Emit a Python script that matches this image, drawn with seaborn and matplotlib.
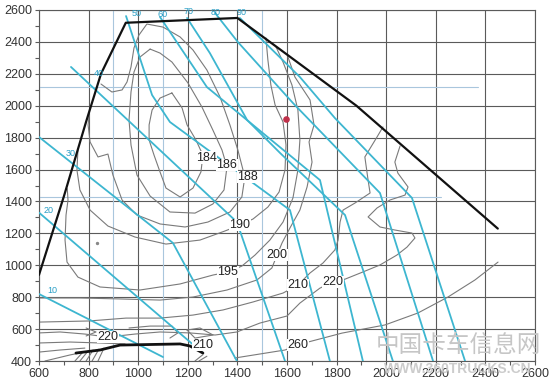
import matplotlib
matplotlib.use("Agg")
import matplotlib.pyplot as plt
import seaborn as sns

# axes
rpm_ticks = list(range(600, 2601, 200))
torque_ticks = list(range(400, 2601, 200))

# full load torque curve and minimum load curve (rpm, Nm)
full_load = [(600, 940), (700, 1430), (790, 1900), (850, 2200), (950, 2520),
             (1400, 2550), (1880, 2000), (2450, 1230)]
min_load = [(749, 450), (846, 469), (927, 500), (1169, 507), (1209, 494), (1261, 450)]

# pedal position lines (%)
pedal_10 = [(600, 820), (1100, 425)]
pedal_20 = [(600, 1330), (1261, 450)]
pedal_30 = [(600, 1804), (1140, 1140), (1398, 400)]
pedal_40 = [(729, 2243), (1398, 1271), (1592, 400)]
pedal_50 = [(951, 2562), (1056, 2067), (1128, 1898), (1612, 1346), (1773, 400)]
pedal_60 = [(1088, 2556), (1277, 2117), (1733, 1534), (1906, 400)]
pedal_70 = [(1197, 2550), (1289, 2330), (1439, 1911), (1572, 1704), (1834, 1315), (2027, 400)]
pedal_80 = [(1310, 2581), (1402, 2399), (1624, 2017), (1975, 1453), (2189, 400)]
pedal_90 = [(1410, 2550), (1652, 2180), (1793, 1923), (2104, 1422), (2318, 400)]
pedal_labels = [("10", 652, 840), ("20", 640, 1345), ("30", 729, 1700), ("40", 842, 2205),
                ("50", 995, 2575), ("60", 1100, 2570), ("70", 1201, 2590),
                ("80", 1314, 2585), ("90", 1418, 2585)]

# BSFC contours (g/kWh)
c184 = [(1136, 2080), (1088, 2048), (1056, 1973), (1044, 1880), (1044, 1785), (1064, 1690),
        (1088, 1585), (1112, 1484), (1169, 1428), (1221, 1484), (1253, 1585), (1261, 1690),
        (1233, 1785), (1197, 1880), (1177, 1986), (1136, 2080)]
c186 = [(1048, 2355), (1007, 2305), (983, 2211), (971, 2086), (963, 1911), (971, 1754),
        (995, 1566), (1048, 1434), (1128, 1334), (1229, 1327), (1301, 1384), (1346, 1472),
        (1358, 1616), (1338, 1722), (1301, 1848), (1257, 1992), (1201, 2142), (1136, 2274),
        (1088, 2330), (1048, 2355)]
c188 = [(850, 2136), (894, 2086), (935, 2099), (955, 2149), (971, 2243), (983, 2362),
        (1003, 2443), (1035, 2512), (1100, 2493), (1169, 2431), (1221, 2349), (1277, 2224),
        (1330, 2055), (1370, 1879), (1402, 1722), (1430, 1553), (1418, 1428), (1370, 1334),
        (1281, 1271), (1189, 1240), (1088, 1259), (995, 1315), (935, 1409), (898, 1566),
        (878, 1697), (838, 1679), (806, 1773), (798, 1879), (802, 1942)]
c190 = [(757, 1722), (753, 1597), (765, 1472), (806, 1346), (878, 1246), (987, 1177),
        (1112, 1133), (1249, 1158), (1350, 1215), (1410, 1252), (1463, 1290), (1523, 1365),
        (1568, 1459), (1592, 1597), (1596, 1754), (1584, 1898), (1552, 2005), (1535, 2130),
        (1523, 2287), (1515, 2425)]
c195 = [(1556, 2368), (1584, 2274), (1620, 2130), (1644, 1973), (1652, 1785), (1644, 1597),
        (1624, 1422), (1584, 1271), (1531, 1158), (1471, 1064), (1418, 995), (1362, 958),
        (1302, 939), (1169, 883), (1007, 845), (846, 864), (757, 926), (713, 1020),
        (705, 1158), (709, 1315), (717, 1409), (714, 1480)]
c200 = [(1604, 2305), (1632, 2180), (1693, 2036), (1709, 1879), (1689, 1773), (1701, 1647),
        (1681, 1491), (1652, 1346), (1612, 1234), (1580, 1140), (1560, 1064), (1539, 983),
        (1479, 908), (1358, 845), (1221, 801), (1088, 782), (927, 789), (765, 795), (600, 795)]
c210 = [(1987, 1867), (1963, 1804), (1914, 1679), (1927, 1534), (1935, 1453), (1874, 1390),
        (1826, 1346), (1814, 1271), (1806, 1158), (1793, 1096), (1745, 1014), (1693, 952),
        (1644, 876), (1584, 826), (1463, 770), (1342, 720), (1221, 688), (1088, 669),
        (951, 669), (802, 651), (600, 644)]
c220 = [(2056, 1748), (2035, 1647), (2047, 1578), (2088, 1491), (2076, 1440), (2015, 1409),
        (1963, 1359), (1927, 1303), (1975, 1240), (2035, 1221), (2104, 1202), (2116, 1171),
        (2084, 1114), (2043, 1064), (1975, 1002), (1906, 958), (1826, 908), (1785, 895),
        (1733, 857), (1652, 763), (1600, 682), (1491, 638), (1398, 582), (1310, 563),
        (1209, 576), (1088, 582), (987, 569), (878, 550), (785, 569), (685, 582), (600, 576)]
c260 = [(1390, 419), (1491, 444), (1592, 469), (1644, 500), (1685, 519), (1822, 575),
        (1995, 626), (2128, 701), (2249, 801), (2358, 908), (2451, 1020)]
# short contour pieces crowding near the minimum load curve
low_pieces = [
    [(600, 513), (725, 519), (846, 513), (947, 507)],
    [(600, 456), (685, 469), (785, 481)],
    [(624, 400), (725, 438), (806, 463)],
    [(745, 400), (777, 456)], [(765, 400), (798, 463)], [(790, 400), (818, 469)],
    [(814, 400), (842, 475)], [(838, 400), (862, 481)],
    [(963, 607), (1048, 619), (1136, 619), (1160, 576), (1128, 544)],
    [(790, 607), (830, 582), (790, 557)],
    [(1197, 594), (1249, 607), (1302, 563), (1229, 544), (1197, 594)],
    [(1229, 400), (1261, 440)], [(1245, 400), (1277, 430)],
]
bsfc_labels = [("184", 1275, 1675), ("186", 1358, 1628), ("188", 1440, 1553),
               ("190", 1410, 1252), ("195", 1362, 958), ("200", 1560, 1064),
               ("210", 1644, 876), ("220", 1785, 895), ("220", 878, 550),
               ("260", 1644, 500), ("210", 1262, 500)]

# helper reference lines and measured point
ref_rpm = [900, 1100, 1500]
ref_torque = [(2115, 2370), (1425, 2220)]
measured_point = (1596, 1917)

sns.set_theme(style="white")
plt.rcParams["font.family"] = ["Liberation Sans", "DejaVu Sans"]

fig = plt.figure(figsize=(5.5, 3.83), dpi=100)
ax = fig.add_axes([0.0709, 0.0574, 0.9018, 0.9165])

grid_col = "#5a5a5a"
light_col = "#a9c6dd"
cyan = "#3db6d0"
contour_col = "#7a7a7a"

for r in rpm_ticks:
    ax.axvline(r, color=grid_col, lw=0.8, zorder=1)
for t in torque_ticks:
    ax.axhline(t, color=grid_col, lw=0.8, zorder=1)
for r in ref_rpm:
    ax.axvline(r, color=light_col, lw=0.8, zorder=1)
for t, r_end in ref_torque:
    ax.plot([600, r_end], [t, t], color=light_col, lw=0.8, zorder=1)


def draw(pts, **kw):
    xs = [p[0] for p in pts]
    ys = [p[1] for p in pts]
    sns.lineplot(x=xs, y=ys, sort=False, estimator=None, ax=ax, legend=False, **kw)


for c in [c184, c186, c188, c190, c195, c200, c210, c220, c260] + low_pieces:
    draw(c, color=contour_col, lw=0.8, zorder=2)

for p in [pedal_10, pedal_20, pedal_30, pedal_40, pedal_50, pedal_60, pedal_70, pedal_80, pedal_90]:
    draw(p, color=cyan, lw=1.3, zorder=3)

draw(full_load, color="#111111", lw=1.6, zorder=4)
draw(min_load, color="#111111", lw=2.0, zorder=4)

for txt, r, t in bsfc_labels:
    ax.text(r, t, txt, fontsize=9, color="#222222", ha="center", va="center", zorder=5,
            bbox=dict(fc="white", ec="none", pad=0.3))
for txt, r, t in pedal_labels:
    ax.text(r, t, txt, fontsize=6.5, color="#2a9fc6", ha="center", va="center", zorder=5)

ax.scatter([measured_point[0]], [measured_point[1]], s=14, color="#c0304a", zorder=6)
ax.scatter([834], [1140], s=2, color="#888888", zorder=2)

ax.set_xlim(600, 2600)
ax.set_ylim(400, 2600)
ax.set_xticks(rpm_ticks)
ax.set_yticks(torque_ticks)
ax.set_xticks(range(700, 2600, 200), minor=True)
ax.set_yticks(range(500, 2600, 200), minor=True)
ax.tick_params(which="both", direction="out", length=3, color=grid_col, width=0.8,
               labelsize=9, labelcolor="#333333", bottom=True, left=True, pad=2)
ax.set_xlabel("")
ax.set_ylabel("")
for s in ax.spines.values():
    s.set_color(grid_col)
    s.set_linewidth(0.8)

# watermark
fig.text(0.833, 0.099, "中国卡车信息网", fontsize=17, color="#c6c6c6",
         family=["Noto Sans CJK SC"], ha="center", va="center", zorder=10)
fig.text(0.833, 0.037, "WWW.360TRUCKS.CN", fontsize=10, fontweight="bold",
         color="#cccccc", ha="center", va="center", zorder=10)

fig.savefig("out.png", dpi=100)
